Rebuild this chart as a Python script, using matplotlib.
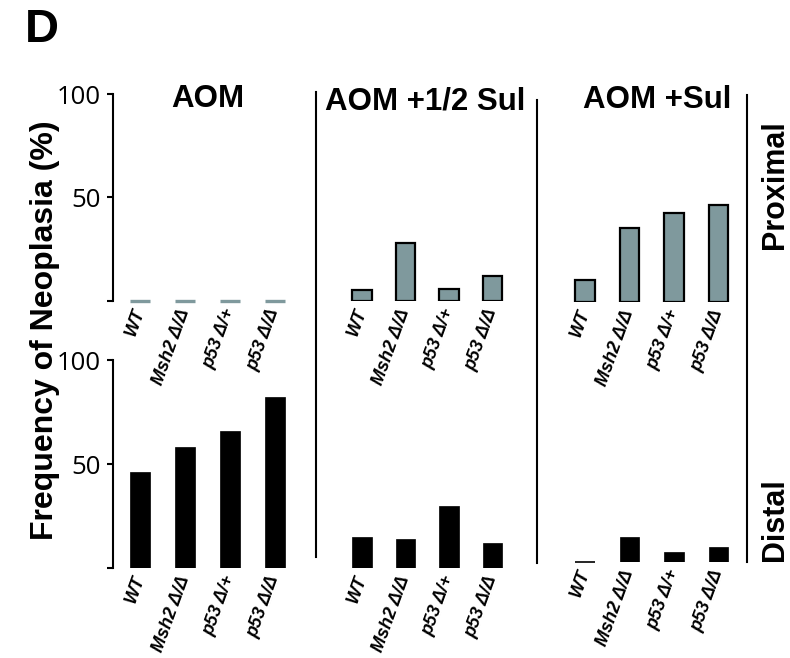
import matplotlib
matplotlib.use('Agg')
import matplotlib.pyplot as plt
from matplotlib.lines import Line2D

# Tumour frequency per genotype, proximal (top row) and distal (bottom row) colon
genotypes = ['WT', 'Msh2 Δ/Δ', 'p53 Δ/+', 'p53 Δ/Δ']
treatments = ['AOM', 'AOM +1/2 Sul', 'AOM +Sul']

proximal_aom = [0, 0, 0, 0]
proximal_half_sul = [5.5, 28, 5.8, 12]
proximal_sul = [10.5, 35.5, 43, 46.5]

distal_aom = [46, 58, 66, 82]
distal_half_sul = [15, 14, 30, 12]
distal_sul = [0, 12, 5, 7]

yticks = [0, 50, 100]
ytick_labels = ['', '50', '100']

W, H = 790, 658
fig = plt.figure(figsize=(W / 100, H / 100), dpi=100)


def rect(left, top, right, bottom):
    # pixel box (origin top-left) -> figure fraction
    return [left / W, 1 - bottom / H, (right - left) / W, (bottom - top) / H]


def fpos(x, y):
    return x / W, 1 - y / H


grey = '#7f999d'
bold = dict(family='Liberation Sans', weight='bold')

# first bar position and spacing of each panel (pixels)
panel_x = [(140, 45), (362, 43.5), (585, 44.5)]
# vertical extent of each row (pixels): top = 100 %, bottom = 0 %
row_y = [[(94, 301), (94, 301), (94, 302)],
         [(360, 568), (360, 568), (354, 562)]]
rows = [[proximal_aom, proximal_half_sul, proximal_sul],
        [distal_aom, distal_half_sul, distal_sul]]
row_style = [dict(color=grey, edgecolor='black', linewidth=1.6, zero_lw=2.4),
             dict(color='black', edgecolor='black', linewidth=0.5, zero_lw=1.2)]

width = 0.44
for r, row in enumerate(rows):
    st = row_style[r]
    for p, values in enumerate(row):
        x0, sp = panel_x[p]
        top, bottom = row_y[r][p]
        left = x0 - 0.6 * sp
        right = x0 + 3.6 * sp
        ax = fig.add_axes(rect(left, top, right, bottom))
        ax.set_xlim(-0.6, 3.6)
        ax.set_ylim(0, 100)
        xs = list(range(len(genotypes)))
        for x, v in zip(xs, values):
            if v == 0:
                ax.hlines(0, x - width / 2, x + width / 2,
                          color=st['color'] if r == 0 else 'black',
                          lw=st['zero_lw'], clip_on=False)
            else:
                ax.bar(x, v, width=width, color=st['color'],
                       edgecolor=st['edgecolor'], linewidth=st['linewidth'])
        for s in ['top', 'right', 'bottom']:
            ax.spines[s].set_visible(False)
        ax.set_xticks(xs)
        ax.set_xticklabels(genotypes, rotation=70, ha='right', va='center',
                           rotation_mode='anchor', fontsize=13,
                           family='Liberation Sans', weight='bold',
                           style='italic')
        ax.tick_params(axis='x', length=0, pad=6)
        if p == 0:
            ax.spines['left'].set_linewidth(1.5)
            ax.set_yticks(yticks)
            ax.set_yticklabels(ytick_labels, family='Open Sans', fontsize=18.5)
            ax.tick_params(axis='y', length=4.5, width=1.5, pad=4)
        else:
            ax.spines['left'].set_visible(False)
            ax.set_yticks([])
        ax.patch.set_visible(False)

# treatment titles
title_pos = [(208, 99), (425, 101), (657, 100)]
for name, (x, y) in zip(treatments, title_pos):
    fig.text(*fpos(x, y), name, ha='center', va='center', fontsize=22.5, **bold)

# panel dividers
for x, y0, y1 in [(316, 92, 557), (537, 100, 563), (747, 95, 562)]:
    fig.add_artist(Line2D([x / W, x / W], [1 - y0 / H, 1 - y1 / H],
                          color='black', lw=1.5))

fig.text(*fpos(42, 30), 'D', ha='center', va='center', fontsize=34, **bold)
fig.text(*fpos(45, 330), 'Frequency of Neoplasia (%)', rotation=90,
         ha='center', va='center', fontsize=23, **bold)
fig.text(*fpos(775, 185), 'Proximal', rotation=90, ha='center', va='center',
         fontsize=22, **bold)
fig.text(*fpos(775, 520), 'Distal', rotation=90, ha='center', va='center',
         fontsize=22, **bold)

fig.savefig('out.png', dpi=100, facecolor='white')
